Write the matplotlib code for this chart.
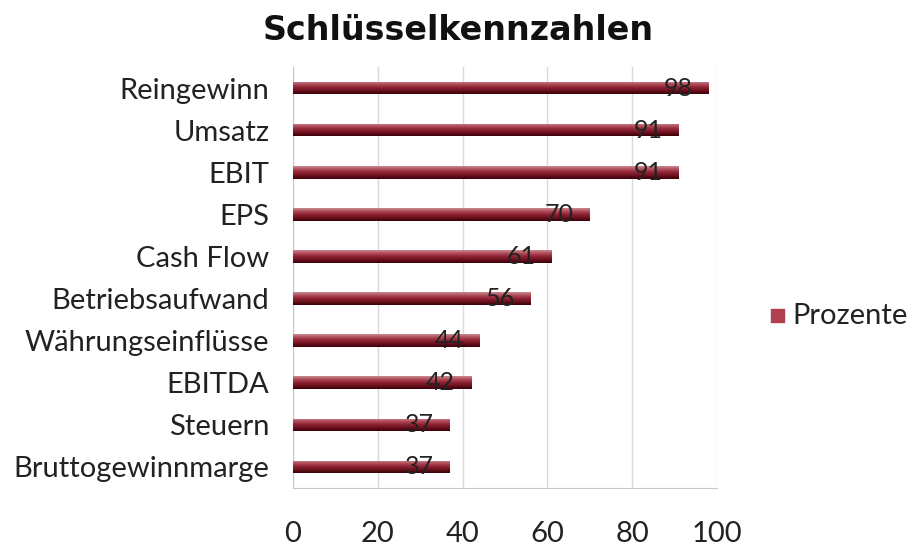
import matplotlib
matplotlib.use("Agg")
import matplotlib.pyplot as plt
import numpy as np
from matplotlib.colors import LinearSegmentedColormap
from matplotlib.patches import Rectangle

categories = ["Reingewinn", "Umsatz", "EBIT", "EPS", "Cash Flow", "Betriebsaufwand",
              "Währungseinflüsse", "EBITDA", "Steuern", "Bruttogewinnmarge"]
values = [98, 91, 91, 70, 61, 56, 44, 42, 37, 37]
xticks = [0, 20, 40, 60, 80, 100]
series_name = "Prozente"
title = "Schlüsselkennzahlen"

plt.rcParams['font.family'] = ['Lato', 'DejaVu Sans']

fig = plt.figure(figsize=(9.11, 5.53), dpi=100)
ax = fig.add_axes([293/911, 1-488/553, (717-293)/911, (488-67)/553])

y = np.arange(len(categories))
bars = ax.barh(y, values, height=0.3, color="#8c1e2d", zorder=3)

# top (visual) light -> bottom dark cylinder shading
cmap = LinearSegmentedColormap.from_list(
    "cyl", ["#c98a92", "#b04a58", "#8e2232", "#6a0f1c", "#3a0208"])
grad = np.linspace(0, 1, 64).reshape(-1, 1)
for b in bars:
    x0, y0 = b.get_x(), b.get_y()
    w, h = b.get_width(), b.get_height()
    im = ax.imshow(grad, extent=[x0, x0 + w, y0 + h, y0], aspect='auto',
                   cmap=cmap, origin='upper', zorder=4, interpolation='bilinear')
    im.set_clip_path(b)

for yi, v in zip(y, values):
    ax.annotate(str(v), xy=(v, yi), xytext=(-22, 0), textcoords='offset points',
                ha='center', va='center', fontsize=18, color='#222222', zorder=6)

ax.set_xlim(0, 100)
ax.set_ylim(len(categories) - 0.5, -0.5)
ax.set_yticks(y)
ax.set_yticklabels(categories, fontsize=21, color='#222222')
ax.set_xticks(xticks)
ax.set_xticklabels([str(t) for t in xticks], fontsize=21, color='#222222')
ax.tick_params(axis='x', length=0, pad=24)
ax.tick_params(axis='y', length=0, pad=17)
ax.grid(axis='x', color='#d9d9d9', linewidth=1, zorder=0)
for s in ['top', 'right']:
    ax.spines[s].set_visible(False)
for s in ['left', 'bottom']:
    ax.spines[s].set_color('#c8c8c8')

fig.text(458/911, 1-30/553, title, ha='center', va='center', fontsize=24,
         fontweight='bold', color='#111111', family=['DejaVu Sans'])

fig.patches.append(Rectangle((771/911, 1-322/553), 13/911, 13/553,
                             transform=fig.transFigure, color='#b04050'))
fig.text(792/911, 1-316/553, series_name, ha='left', va='center', fontsize=21, color='#222222')

fig.savefig("out.png", dpi=100)
